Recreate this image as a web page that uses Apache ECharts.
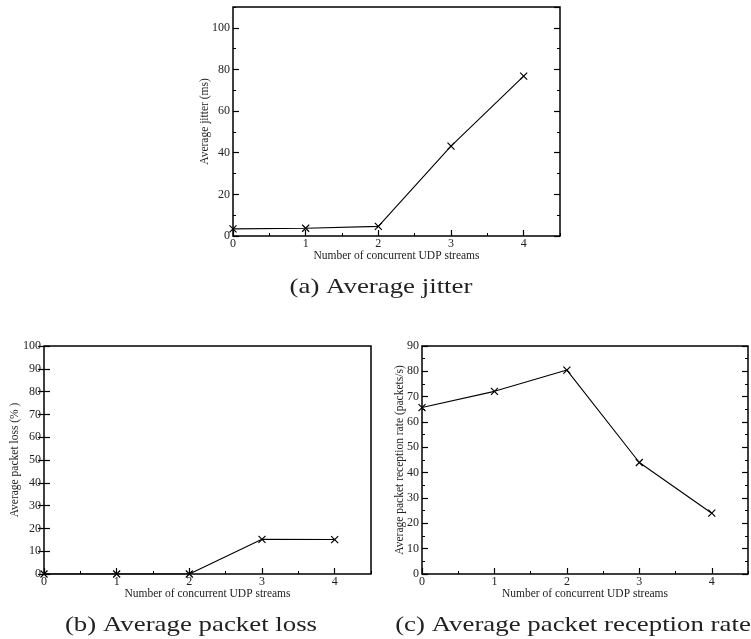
<!DOCTYPE html>
<html>
<head>
<meta charset="utf-8">
<script src="https://cdn.jsdelivr.net/npm/echarts@6/dist/echarts.min.js"></script>
<style>
  html, body { margin: 0; padding: 0; background: #fff; }
  #main { width: 751px; height: 639px; }
</style>
</head>
<body>
<div id="main"></div>
<script>
// data
var streams = [0, 1, 2, 3, 4];
var jitter = [3.4, 3.7, 4.6, 43.2, 76.8];
var loss = [0, 0, 0, 15.2, 15.1];
var rate = [65.7, 72.1, 80.5, 44.0, 24.0];

var xName = 'Number of concurrent UDP streams';
var yNames = ['Average jitter (ms)', 'Average packet loss (% )', 'Average packet reception rate (packets/s)'];
var captions = ['(a) Average jitter', '(b) Average packet loss', '(c) Average packet reception rate'];

var serif = 'Liberation Serif';
var ink = '#000';

// grid boxes (px)
var grids = [
    {left: 233, top: 7, width: 327, height: 229},
    {left: 44, top: 346, width: 327, height: 228},
    {left: 422, top: 346, width: 326, height: 228}
];
// y scale per panel: max, major step, minor step (0 = none), name gap
var yScale = [
    {max: 110, step: 20, minor: 10, gap: 22},
    {max: 100, step: 10, minor: 0, gap: 23},
    {max: 90, step: 10, minor: 5, gap: 16.5}
];

function pairs(ys) {
    return streams.map(function (x, i) { return [x, ys[i]]; });
}

var xAxes = [], yAxes = [];

grids.forEach(function (g, gi) {
    // main x axis
    xAxes.push({
        type: 'value', gridIndex: gi, position: 'bottom',
        min: 0, max: 4.5, interval: 1,
        name: xName, nameLocation: 'middle', nameGap: 14, nameMoveOverlap: false,
        nameTextStyle: {fontFamily: serif, fontSize: 11.5, color: '#222'},
        axisLine: {show: false},
        axisTick: {inside: true, length: 6, lineStyle: {color: ink, width: 1.2}},
        axisLabel: {margin: 2, fontFamily: serif, fontSize: 12, color: '#222', showMaxLabel: false},
        splitLine: {show: false}
    });
    // minor x ticks
    xAxes.push({
        type: 'value', gridIndex: gi, position: 'bottom',
        min: 0, max: 4.5, interval: 0.5,
        axisLine: {show: false},
        axisTick: {inside: true, length: 3, lineStyle: {color: ink, width: 1}},
        axisLabel: {show: false},
        splitLine: {show: false}
    });
    var s = yScale[gi];
    ['left', 'right'].forEach(function (side) {
        yAxes.push({
            type: 'value', gridIndex: gi, position: side,
            min: 0, max: s.max, interval: s.step,
            name: side === 'left' ? yNames[gi] : '',
            nameLocation: 'middle', nameGap: s.gap, nameMoveOverlap: false,
            nameTextStyle: {fontFamily: serif, fontSize: 11.5, color: '#222'},
            axisLine: {show: false},
            axisTick: {inside: true, length: 6, lineStyle: {color: ink, width: 1.2}},
            axisLabel: {show: side === 'left', margin: 3, fontFamily: serif, fontSize: 12,
                        color: '#222', showMaxLabel: s.max % s.step === 0},
            splitLine: {show: false}
        });
        if (s.minor) {
            yAxes.push({
                type: 'value', gridIndex: gi, position: side,
                min: 0, max: s.max, interval: s.minor,
                axisLine: {show: false},
                axisTick: {inside: true, length: 3, lineStyle: {color: ink, width: 1}},
                axisLabel: {show: false},
                splitLine: {show: false}
            });
        }
    });
});

// index of the main left y axis for each grid
var yMain = [0, 4, 6];

var cross = 'path://M0,0L10,10M10,0L0,10';

var series = [jitter, loss, rate].map(function (ys, gi) {
    return {
        type: 'line',
        xAxisIndex: gi * 2,
        yAxisIndex: yMain[gi],
        data: pairs(ys),
        symbol: cross,
        symbolSize: 7,
        showAllSymbol: true,
        lineStyle: {color: ink, width: 1.1},
        itemStyle: {color: 'transparent', borderColor: ink, borderWidth: 1.2},
        animation: false
    };
});

function caption(text, x, y) {
    return {
        type: 'text', x: x, y: y, scaleX: 1.22,
        style: {text: text, textAlign: 'center', textVerticalAlign: 'middle',
                font: '22px "Liberation Serif"', fill: '#222'}
    };
}

var chart = echarts.init(document.getElementById('main'));
chart.setOption({
    backgroundColor: '#fff',
    animation: false,
    grid: grids.map(function (g) {
        return {left: g.left, top: g.top, width: g.width, height: g.height,
                show: true, borderColor: ink, borderWidth: 1.5, backgroundColor: 'transparent'};
    }),
    xAxis: xAxes,
    yAxis: yAxes,
    series: series,
    graphic: [
        caption(captions[0], 381, 287),
        caption(captions[1], 191, 625),
        caption(captions[2], 573, 625)
    ]
});
</script>
</body>
</html>
